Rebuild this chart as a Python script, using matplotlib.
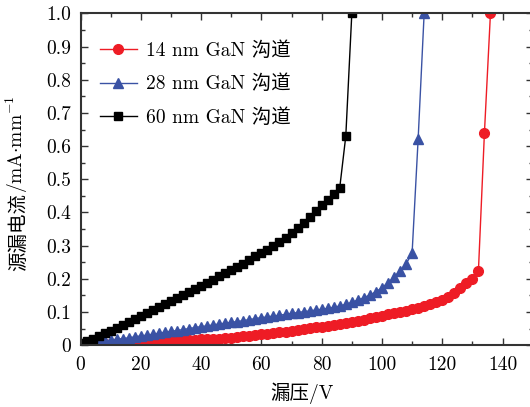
import matplotlib
matplotlib.use("Agg")
import matplotlib.pyplot as plt
from matplotlib.ticker import MultipleLocator, FixedLocator, FixedFormatter

plt.rcParams['font.family'] = ['cmr10', 'Noto Sans CJK SC', 'DejaVu Sans']
plt.rcParams['mathtext.fontset'] = 'cm'
plt.rcParams['axes.formatter.use_mathtext'] = True

# ---- data ----
v_14 = [0, 2, 4, 6, 8, 10, 12, 14, 16, 18, 20, 22, 24, 26, 28, 30, 32, 34, 36, 38,
        40, 42, 44, 46, 48, 50, 52, 54, 56, 58, 60, 62, 64, 66, 68, 70, 72, 74, 76, 78,
        80, 82, 84, 86, 88, 90, 92, 94, 96, 98, 100, 102, 104, 106, 108, 110, 112, 114,
        116, 118, 120, 122, 124, 126, 128, 130, 132, 134, 136]
i_14 = [0.002, 0.002, 0.003, 0.003, 0.004, 0.004, 0.005, 0.005, 0.006, 0.007,
        0.007, 0.008, 0.009, 0.010, 0.011, 0.012, 0.013, 0.014, 0.015, 0.016,
        0.017, 0.018, 0.019, 0.020, 0.022, 0.023, 0.025, 0.027, 0.029, 0.031,
        0.033, 0.035, 0.037, 0.039, 0.041, 0.044, 0.046, 0.049, 0.051, 0.054,
        0.056, 0.059, 0.061, 0.064, 0.067, 0.070, 0.073, 0.077, 0.081, 0.085,
        0.089, 0.093, 0.096, 0.100, 0.104, 0.108, 0.113, 0.119, 0.125, 0.130,
        0.137, 0.146, 0.158, 0.172, 0.186, 0.200, 0.222, 0.64, 1.0]

v_28 = [0, 2, 4, 6, 8, 10, 12, 14, 16, 18, 20, 22, 24, 26, 28, 30, 32, 34, 36, 38,
        40, 42, 44, 46, 48, 50, 52, 54, 56, 58, 60, 62, 64, 66, 68, 70, 72, 74, 76, 78,
        80, 82, 84, 86, 88, 90, 92, 94, 96, 98, 100, 102, 104, 106, 108, 110, 112, 114]
i_28 = [0.004, 0.006, 0.008, 0.010, 0.012, 0.015, 0.017, 0.020, 0.022, 0.025,
        0.028, 0.030, 0.033, 0.036, 0.039, 0.042, 0.044, 0.047, 0.050, 0.053,
        0.056, 0.058, 0.061, 0.064, 0.066, 0.069, 0.071, 0.074, 0.077, 0.080,
        0.083, 0.085, 0.088, 0.090, 0.093, 0.096, 0.098, 0.101, 0.103, 0.106,
        0.108, 0.111, 0.114, 0.118, 0.123, 0.129, 0.136, 0.143, 0.151, 0.161,
        0.173, 0.188, 0.205, 0.224, 0.245, 0.277, 0.62, 1.0]

v_60 = [0, 2, 4, 6, 8, 10, 12, 14, 16, 18, 20, 22, 24, 26, 28, 30, 32, 34, 36, 38,
        40, 42, 44, 46, 48, 50, 52, 54, 56, 58, 60, 62, 64, 66, 68, 70, 72, 74, 76, 78,
        80, 82, 84, 86, 88, 90]
i_60 = [0.005, 0.012, 0.020, 0.028, 0.036, 0.044, 0.053, 0.061, 0.070, 0.079,
        0.088, 0.097, 0.106, 0.115, 0.124, 0.133, 0.142, 0.151, 0.160, 0.169,
        0.178, 0.188, 0.197, 0.207, 0.216, 0.226, 0.236, 0.246, 0.257, 0.268,
        0.278, 0.288, 0.299, 0.311, 0.324, 0.338, 0.353, 0.369, 0.386, 0.403,
        0.421, 0.439, 0.457, 0.475, 0.63, 1.0]

labels = ['14 nm GaN 沟道', '28 nm GaN 沟道', '60 nm GaN 沟道']
x_ticks = [0, 20, 40, 60, 80, 100, 120, 140]
x_ticklabels = ['0', '20', '40', '60', '80', '100', '120', '140']
y_ticks = [0, 0.1, 0.2, 0.3, 0.4, 0.5, 0.6, 0.7, 0.8, 0.9, 1.0]
y_ticklabels = ['0', '0.1', '0.2', '0.3', '0.4', '0.5', '0.6', '0.7', '0.8', '0.9', '1.0']
xlabel_text = '漏压/V'
ylabel_cjk = '源漏电流'
ylabel_unit = r'/mA$\cdot$mm$^{-1}$'

# ---- figure ----
fig = plt.figure(figsize=(5.30, 4.07), dpi=100)
ax = fig.add_axes([0.152, 0.152, 0.853, 0.815])

ax.plot(v_14, i_14, color='#ee1c25', marker='o', markersize=7, lw=1.0, label=labels[0])
ax.plot(v_28, i_28, color='#3a52a4', marker='^', markersize=7.5, lw=1.0, label=labels[1])
ax.plot(v_60, i_60, color='black', marker='s', markersize=6.3, lw=1.0, label=labels[2])

ax.set_xlim(0, 150)
ax.set_ylim(0, 1.0)
ax.xaxis.set_major_locator(FixedLocator(x_ticks))
ax.xaxis.set_major_formatter(FixedFormatter(x_ticklabels))
ax.yaxis.set_major_locator(FixedLocator(y_ticks))
ax.yaxis.set_major_formatter(FixedFormatter(y_ticklabels))
ax.xaxis.set_minor_locator(MultipleLocator(10))
ax.yaxis.set_minor_locator(MultipleLocator(0.05))
ax.tick_params(which='both', direction='in', top=True, right=True, labelsize=14,
               color='#333333')
ax.tick_params(axis='y', which='major', pad=7)
ax.tick_params(axis='x', which='major', pad=8)
ax.tick_params(which='major', length=5, width=1.0)
ax.tick_params(which='minor', length=3, width=1.0)
for s in ax.spines.values():
    s.set_linewidth(1.5)
    s.set_color('#333333')

ax.set_xlabel(xlabel_text, fontsize=14)
ax.xaxis.set_label_coords(0.49, -0.112)

# y label: CJK part + math-typeset unit part, stacked along the rotated direction
t1 = ax.text(-0.137, 0.225, ylabel_cjk, transform=ax.transAxes, rotation=90,
             ha='center', va='bottom', fontsize=14,
             family=['Noto Sans CJK SC', 'DejaVu Sans'])
ax.annotate(ylabel_unit, xy=(0.5, 1.0), xycoords=t1, xytext=(-1.5, 0),
            textcoords='offset points', rotation=90, ha='center', va='bottom',
            fontsize=14, annotation_clip=False)

ax.legend(loc='upper left', bbox_to_anchor=(0.043, 0.916), frameon=False,
          fontsize=14, handlelength=1.9, handletextpad=0.46, labelspacing=0.76,
          borderaxespad=0.0, borderpad=0.0)

fig.savefig('out.png', dpi=100)
